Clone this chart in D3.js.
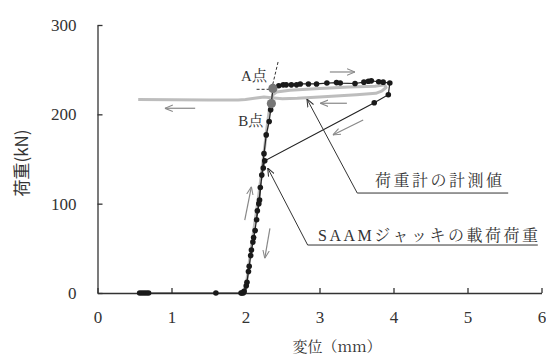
<!DOCTYPE html>
<html lang="ja">
<head>
<meta charset="UTF-8">
<title>荷重-変位</title>
<script src="https://d3js.org/d3.v7.min.js"></script>
<style>
    body { margin: 0; background: #fff; }
    svg { display: block; }
    .axis path, .axis line { stroke: #333; stroke-width: 1.3px; }
</style>
</head>
<body>
<svg width="546" height="358"></svg>
<script>
// SAAMジャッキの載荷荷重 (black, markers)
const jackDisp = [0.57, 0.60, 0.63, 0.66, 0.69, 1.60, 1.95, 1.98, 2.02, 2.05, 2.08, 2.11, 2.15, 2.19, 2.22, 2.25, 2.28, 2.32, 2.34, 2.37,
    2.45, 2.51, 2.55, 2.62, 2.69, 2.74, 2.85, 2.96, 3.10, 3.23, 3.28, 3.48, 3.60, 3.66, 3.70, 3.80, 3.86, 3.95, 3.93, 3.74,
    2.26, 2.24, 2.20, 2.18, 2.16, 2.13, 2.10, 2.07, 2.04, 2.01, 1.97, 1.94];
const jackLoad = [0, 0, 0, 0, 0, 0, 0, 2, 12, 30, 48, 62, 82, 104, 132, 156, 177, 192, 205, 229,
    232, 233, 233, 233, 233, 234, 234, 234, 235, 235.5, 235, 234.5, 236, 237, 237.5, 236.5, 236, 235, 222, 213,
    148, 140, 118, 100, 92, 70, 57, 42, 24, 8, 0, 0];

// 荷重計の計測値 (gray line)
const cellDisp = [1.97, 2.02, 2.06, 2.12, 2.18, 2.24, 2.29, 2.33, 2.37, 2.42, 2.60, 3.00, 3.40, 3.75, 3.88,
    3.90, 3.84, 3.76, 3.50, 3.00, 2.70, 2.50, 2.35, 2.25, 2.12, 2.00, 1.90, 1.50, 0.55];
const cellLoad = [0, 15, 40, 75, 110, 150, 185, 210, 222, 225, 227, 229, 230.5, 231.5, 233,
    230, 226, 223.5, 222, 219.5, 218, 217.5, 218.5, 219.5, 218, 216.5, 216, 216, 216.5];

// A点, B点
const keyNames = ["A点", "B点"];
const keyDisp = [2.37, 2.35];
const keyLoad = [229, 212];

const xTicks = [0, 1, 2, 3, 4, 5, 6];
const yTicks = [0, 100, 200, 300];

const serif = "'Liberation Serif', 'DejaVu Serif', 'Noto Serif', 'Times New Roman', serif";
const jpFont = "'Liberation Serif', 'Noto Serif CJK JP', 'Noto Sans CJK JP', serif";

const svg = d3.select("svg");
const x = d3.scaleLinear().domain([0, 6]).range([97.5, 541.5]);
const y = d3.scaleLinear().domain([0, 300]).range([293, 25]);

const defs = svg.append("defs");
function arrowMarker(id, color) {
    defs.append("marker")
        .attr("id", id)
        .attr("viewBox", "0 -5 10 10")
        .attr("refX", 10).attr("refY", 0)
        .attr("markerWidth", 8).attr("markerHeight", 8)
        .attr("markerUnits", "userSpaceOnUse")
        .attr("orient", "auto-start-reverse")
        .append("path")
        .attr("d", "M0,-4L10,0L0,4")
        .attr("fill", "none")
        .attr("stroke", color)
        .attr("stroke-width", 1.3);
}
arrowMarker("grayArrow", "#888");
arrowMarker("blackArrow", "#333");

// axes
const xAxis = svg.append("g")
    .attr("class", "axis")
    .attr("transform", `translate(0,${y(0)})`)
    .call(d3.axisBottom(x).tickValues(xTicks).tickFormat(d3.format("d"))
        .tickSizeInner(-5).tickSizeOuter(0).tickPadding(18));

const yAxis = svg.append("g")
    .attr("class", "axis")
    .attr("transform", `translate(${x(0)},0)`)
    .call(d3.axisLeft(y).tickValues(yTicks).tickFormat(d3.format("d"))
        .tickSizeInner(-5).tickSizeOuter(0).tickPadding(21));

[xAxis, yAxis].forEach(g => g.selectAll("text")
    .style("font-family", serif)
    .style("font-size", "17px")
    .attr("fill", "#333"));

// axis titles
svg.append("text")
    .attr("x", 337).attr("y", 352)
    .attr("text-anchor", "middle")
    .attr("fill", "#333")
    .style("font-size", "15px")
    .style("font-family", "'Noto Serif CJK JP', 'Noto Sans CJK JP', serif")
    .text("変位（mm）");

svg.append("text")
    .attr("transform", "translate(28,163) rotate(-90)")
    .attr("text-anchor", "middle")
    .attr("fill", "#333")
    .style("font-size", "17px")
    .style("font-family", "'Noto Sans CJK JP', sans-serif")
    .text("荷重(kN)");

// gray load-cell line
const cellPts = cellDisp.map((d, i) => [d, cellLoad[i]]);
const line = d3.line().x(d => x(d[0])).y(d => y(d[1]));
svg.append("path")
    .datum(cellPts)
    .attr("d", line)
    .attr("fill", "none")
    .attr("stroke", "#bdbdbd")
    .attr("stroke-width", 3)
    .attr("stroke-linejoin", "round");

// black jack line + markers
const jackPts = jackDisp.map((d, i) => [d, jackLoad[i]]);
svg.append("path")
    .datum(jackPts)
    .attr("d", line)
    .attr("fill", "none")
    .attr("stroke", "#222")
    .attr("stroke-width", 1.2);

svg.append("g")
    .selectAll("circle")
    .data(jackPts)
    .enter().append("circle")
    .attr("cx", d => x(d[0]))
    .attr("cy", d => y(d[1]))
    .attr("r", 2.8)
    .attr("fill", "#1a1a1a");

// dashed guide lines at A
svg.append("line")
    .attr("x1", x(2.44)).attr("y1", y(258.6))
    .attr("x2", x(2.36)).attr("y2", y(230.6))
    .attr("stroke", "#333").attr("stroke-width", 1)
    .attr("stroke-dasharray", "3,2");
svg.append("line")
    .attr("x1", x(2.15)).attr("y1", y(228))
    .attr("x2", x(2.34)).attr("y2", y(228))
    .attr("stroke", "#333").attr("stroke-width", 1)
    .attr("stroke-dasharray", "3,2");

// A / B points
svg.append("g")
    .selectAll("circle")
    .data(keyDisp)
    .enter().append("circle")
    .attr("cx", d => x(d))
    .attr("cy", (d, i) => y(keyLoad[i]))
    .attr("r", 4.6)
    .attr("fill", "#767676");

svg.append("text")
    .attr("x", x(2.29)).attr("y", y(237.3))
    .attr("text-anchor", "end").attr("fill", "#333")
    .style("font-size", "15px").style("font-family", jpFont)
    .text(keyNames[0]);
svg.append("text")
    .attr("x", x(2.24)).attr("y", y(187))
    .attr("text-anchor", "end").attr("fill", "#333")
    .style("font-size", "15px").style("font-family", jpFont)
    .text(keyNames[1]);

// direction arrows (gray)
const dirArrows = [
    [[3.14, 247.4], [3.48, 247.4]],
    [[3.37, 212.4], [3.01, 212.4]],
    [[1.32, 206.8], [0.91, 206.8]],
    [[3.59, 193.7], [3.18, 176.9]],
    [[1.99, 81.7], [2.08, 119]],
    [[2.33, 72.4], [2.26, 38.8]]
];
svg.append("g")
    .selectAll("path")
    .data(dirArrows)
    .enter().append("path")
    .attr("d", line)
    .attr("fill", "none")
    .attr("stroke", "#888")
    .attr("stroke-width", 1.2)
    .attr("marker-end", "url(#grayArrow)");

// leader lines
const leaders = [
    [[2.83, 217.2], [3.51, 111.9], [5.55, 111.9]],
    [[2.30, 139.9], [2.84, 53.7], [5.95, 53.7]]
];
svg.append("g")
    .selectAll("path")
    .data(leaders)
    .enter().append("path")
    .attr("d", line)
    .attr("fill", "none")
    .attr("stroke", "#333")
    .attr("stroke-width", 1)
    .attr("marker-start", "url(#blackArrow)");

svg.append("text")
    .attr("x", x(3.75)).attr("y", y(119.7))
    .attr("textLength", 127).attr("lengthAdjust", "spacing")
    .attr("fill", "#333")
    .style("font-size", "16px").style("font-family", jpFont)
    .text("荷重計の計測値");
svg.append("text")
    .attr("x", x(2.98)).attr("y", y(58.2))
    .attr("textLength", 220).attr("lengthAdjust", "spacing")
    .attr("fill", "#333")
    .style("font-size", "16px").style("font-family", jpFont)
    .text("SAAMジャッキの載荷荷重");
</script>
</body>
</html>
